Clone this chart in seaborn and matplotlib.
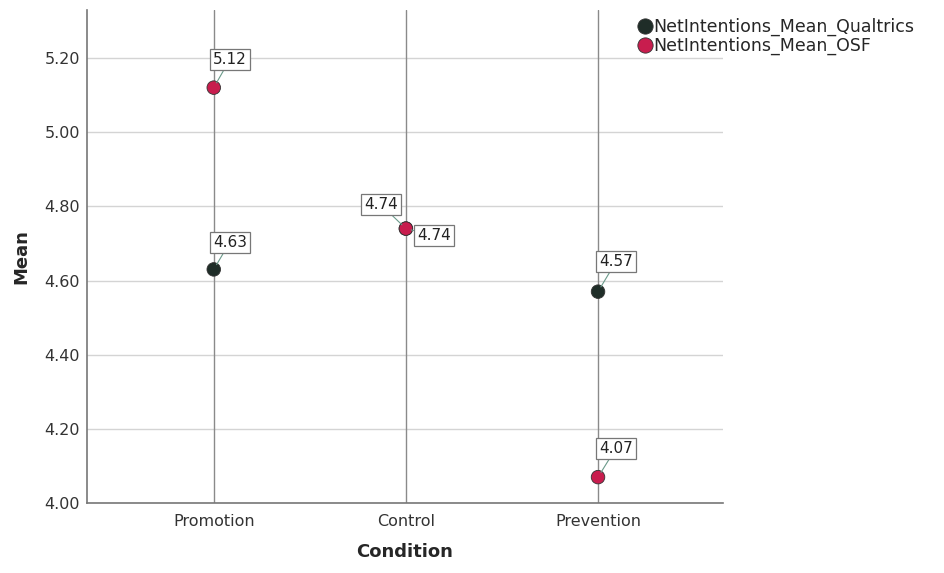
import pandas as pd
import seaborn as sns
import matplotlib.pyplot as plt
import matplotlib.ticker as mticker

# data
conditions = ["Promotion", "Control", "Prevention"]
qualtrics_means = [4.63, 4.74, 4.57]
osf_means = [5.12, 4.74, 4.07]
series_names = ["NetIntentions_Mean_Qualtrics", "NetIntentions_Mean_OSF"]
series_colors = ["#1f2d28", "#c81d4e"]
y_ticks = [4.00, 4.20, 4.40, 4.60, 4.80, 5.00, 5.20]

sns.set_style("white")
plt.rcParams['font.family'] = ['DejaVu Sans']

df = pd.DataFrame({
    "Condition": conditions * 2,
    "Mean": qualtrics_means + osf_means,
    "Series": [series_names[0]] * 3 + [series_names[1]] * 3,
})
df["x"] = df["Condition"].map({c: i for i, c in enumerate(conditions)})

fig = plt.figure(figsize=(9.45, 5.73), dpi=100)
ax = fig.add_axes([0.092, 0.122, 0.673, 0.861])

# grid: light horizontal, darker vertical at each category
for t in y_ticks:
    ax.axhline(t, color="#d4d4d4", lw=1.0, zorder=0)
for i in range(len(conditions)):
    ax.axvline(i, color="#8a8a8a", lw=1.0, zorder=0)

sns.scatterplot(data=df, x="x", y="Mean", hue="Series", hue_order=series_names,
                palette=series_colors, s=95, edgecolor="#333333", linewidth=0.6,
                ax=ax, legend=False, zorder=3)

# value labels (offsets in pixels)
offsets = {
    (series_names[0], "Promotion"): (16, 27),
    (series_names[1], "Promotion"): (16, 28),
    (series_names[0], "Control"): (28, -7),
    (series_names[1], "Control"): (-25, 24),
    (series_names[0], "Prevention"): (18, 30),
    (series_names[1], "Prevention"): (18, 29),
}
for _, r in df.iterrows():
    dx, dy = offsets[(r["Series"], r["Condition"])]
    ax.annotate(f"{r['Mean']:.2f}", xy=(r["x"], r["Mean"]), xytext=(dx, dy),
                textcoords="offset pixels", ha="center", va="center", fontsize=11,
                color="#222222",
                bbox=dict(boxstyle="square,pad=0.2", fc="white", ec="#777777", lw=0.9),
                arrowprops=dict(arrowstyle="-", color="#6a9a8a", lw=0.8,
                                shrinkA=0, shrinkB=4),
                zorder=4)

ax.set_xlim(-0.66, 2.65)
ax.set_ylim(4.0, 5.33)
ax.set_xticks(range(len(conditions)))
ax.set_xticklabels(conditions, fontsize=11.5, color="#333333")
ax.set_yticks(y_ticks)
ax.yaxis.set_major_formatter(mticker.FormatStrFormatter("%.2f"))
ax.tick_params(axis="y", labelsize=11.5, colors="#333333", length=0, pad=5)
ax.tick_params(axis="x", length=0, pad=8)
ax.set_xlabel("Condition", fontsize=13, fontweight="bold", labelpad=10)
ax.set_ylabel("Mean", fontsize=13, fontweight="bold", labelpad=10)

for side in ["top", "right"]:
    ax.spines[side].set_visible(False)
for side in ["left", "bottom"]:
    ax.spines[side].set_color("#777777")
    ax.spines[side].set_linewidth(1.2)

handles = [plt.Line2D([], [], marker="o", ls="", markersize=11, markerfacecolor=c,
                      markeredgecolor="#333333", markeredgewidth=0.6) for c in series_colors]
fig.legend(handles, series_names, loc="upper left", bbox_to_anchor=(0.66, 0.99),
           frameon=False, fontsize=12.5, handletextpad=0.0, labelspacing=0.05,
           borderpad=0.2, handlelength=1.0)

fig.savefig("out.png", dpi=100)
